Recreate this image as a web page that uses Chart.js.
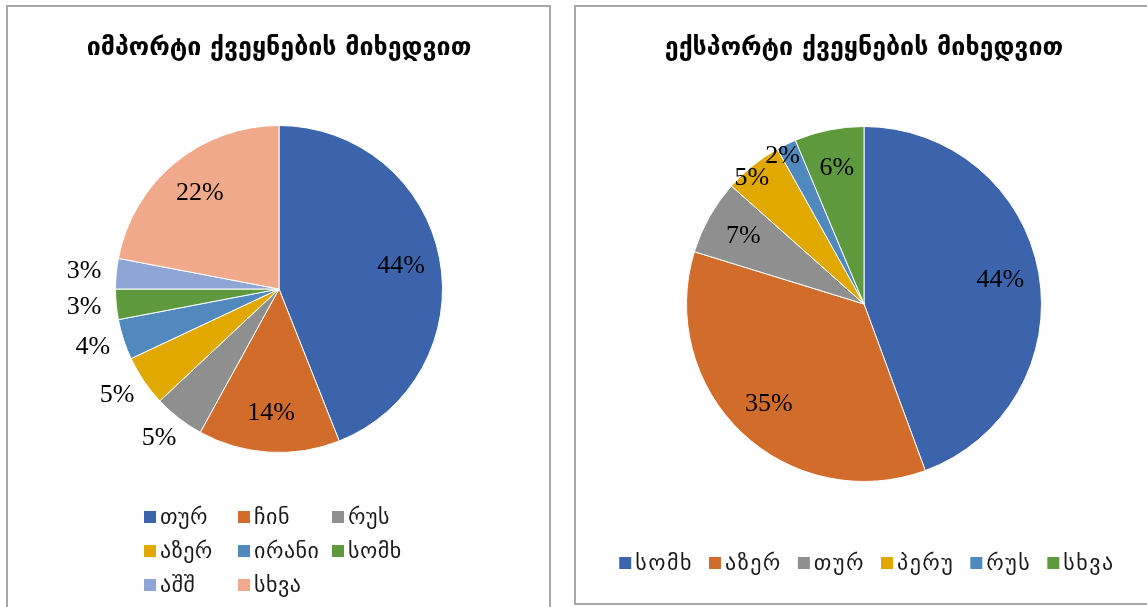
<!DOCTYPE html>
<html>
<head>
<meta charset="utf-8">
<script src="https://cdn.jsdelivr.net/npm/chart.js@4/dist/chart.umd.min.js"></script>
<style>
  body { margin: 0; background: #fff; width: 1147px; height: 607px; overflow: hidden; position: relative; }
  canvas { position: absolute; top: 0; }
  .frame { position: absolute; border: 2px solid #a8a8a8; box-sizing: border-box; pointer-events: none; }
</style>
</head>
<body>
<canvas id="importChart" width="560" height="607" style="left:0"></canvas>
<canvas id="exportChart" width="585" height="607" style="left:562px"></canvas>
<div class="frame" style="left:6px;top:5px;width:545px;height:620px"></div>
<div class="frame" style="left:574px;top:5px;width:600px;height:600px"></div>
<script>
// Import by country
const importTitle = "იმპორტი ქვეყნების მიხედვით"
const importLabels = ["თურ", "ჩინ", "რუს", "აზერ", "ირანი", "სომხ", "აშშ", "სხვა"]
const importValues = [44, 14, 5, 5, 4, 3, 3, 22]
const importColors = ["#3C64AD", "#D26C2A", "#8F8F8F", "#E1A900", "#4F89BE", "#5E9A3D", "#8EA5D5", "#F0A98A"]

// Export by country
const exportTitle = "ექსპორტი ქვეყნების მიხედვით"
const exportLabels = ["სომხ", "აზერ", "თურ", "პერუ", "რუს", "სხვა"]
const exportValues = [44.3, 35.3, 6.8, 5.3, 1.8, 6.3]
const exportColors = ["#3C64AD", "#D26C2A", "#8F8F8F", "#E1A900", "#4F89BE", "#5E9A3D"]

const geoFont = "'DejaVu Sans', sans-serif"
const numFont = "'Liberation Serif', 'DejaVu Serif', serif"

// Title drawn at a fixed spot above the pie
const titlePlugin = {
  id: "panelTitle",
  afterDraw: (chart, args, opts) => {
    const ctx = chart.ctx
    ctx.save()
    ctx.font = `bold ${opts.size}px ${geoFont}`
    ctx.fillStyle = "#000"
    ctx.textAlign = "center"
    ctx.textBaseline = "middle"
    ctx.fillText(opts.text, opts.x, opts.y)
    ctx.restore()
  },
}

// Percent labels, inside for big slices, outside or on the rim for small ones
const pctPlugin = {
  id: "pctLabels",
  afterDatasetsDraw: (chart, args, opts) => {
    const ctx = chart.ctx
    const data = chart.data.datasets[0].data
    const total = data.reduce((a, b) => a + b, 0)
    ctx.save()
    ctx.font = `${opts.size}px ${numFont}`
    ctx.fillStyle = "#000"
    ctx.textAlign = "center"
    ctx.textBaseline = "middle"
    chart.getDatasetMeta(0).data.forEach((arc, i) => {
      const pct = (data[i] / total) * 100
      const text = Math.round(pct) + "%"
      const { x, y, startAngle, endAngle, outerRadius } = arc.getProps(["x", "y", "startAngle", "endAngle", "outerRadius"], true)
      const mid = (startAngle + endAngle) / 2
      let px, py
      if (pct >= opts.insideMin) {
        px = x + Math.cos(mid) * outerRadius * opts.insideR
        py = y + Math.sin(mid) * outerRadius * opts.insideR
      } else if (opts.smallMode === "rim") {
        // rim labels sit a little back toward the slice start
        const a = mid - (opts.skew || 0)
        px = x + Math.cos(a) * outerRadius * opts.rimR
        py = y + Math.sin(a) * outerRadius * opts.rimR
      } else {
        const c = Math.cos(mid)
        const s = Math.sin(mid)
        const w = ctx.measureText(text).width
        const h = opts.size * 0.8
        const r = outerRadius + opts.gap
        px = x + c * r + c * w / 2
        py = y + s * r + s * h / 2
      }
      ctx.fillText(text, px, py)
    })
    ctx.restore()
  },
}

// Legend laid out like the spreadsheet one: grid or single centred row
const legendPlugin = {
  id: "gridLegend",
  afterDraw: (chart, args, opts) => {
    const ctx = chart.ctx
    const labels = chart.data.labels
    const colors = chart.data.datasets[0].backgroundColor
    ctx.save()
    ctx.font = `${opts.size}px ${geoFont}`
    ctx.letterSpacing = opts.spacing + "px"
    ctx.textBaseline = "middle"
    ctx.textAlign = "left"
    const box = opts.box
    if (opts.cols) {
      labels.forEach((lbl, i) => {
        const bx = opts.x + (i % opts.cols) * opts.colWidth
        const by = opts.y + Math.floor(i / opts.cols) * opts.rowHeight
        ctx.fillStyle = colors[i]
        ctx.fillRect(bx, by - box / 2, box, box)
        ctx.fillStyle = "#1a1a1a"
        ctx.fillText(lbl, bx + box + opts.textGap, by + 1)
      })
    } else {
      const widths = labels.map((lbl) => box + opts.textGap + ctx.measureText(lbl).width)
      const full = widths.reduce((a, b) => a + b, 0) + opts.itemGap * (labels.length - 1)
      let bx = opts.cx - full / 2
      labels.forEach((lbl, i) => {
        ctx.fillStyle = colors[i]
        ctx.fillRect(bx, opts.y - box / 2, box, box)
        ctx.fillStyle = "#1a1a1a"
        ctx.fillText(lbl, bx + box + opts.textGap, opts.y + 1)
        bx += widths[i] + opts.itemGap
      })
    }
    ctx.restore()
  },
}

const pieOptions = (padding, extra) => ({
  responsive: false,
  animation: false,
  layout: { padding },
  plugins: {
    legend: { display: false },
    title: { display: false },
    tooltip: { enabled: false },
    ...extra,
  },
})

new Chart(document.getElementById("importChart"), {
  type: "pie",
  data: {
    labels: importLabels,
    datasets: [{ data: importValues, backgroundColor: importColors, borderColor: "#ffffff", borderWidth: 1, hoverOffset: 0 }],
  },
  options: pieOptions(
    { left: 115, right: 117, top: 125, bottom: 154 },
    {
      panelTitle: { text: importTitle, x: 279, y: 48, size: 25 },
      pctLabels: { size: 26, insideMin: 10, insideR: 0.76, gap: 15 },
      gridLegend: { size: 22, spacing: 0.5, box: 12, textGap: 4, cols: 3, colWidth: 94, rowHeight: 34, x: 144, y: 517 },
    }
  ),
  plugins: [titlePlugin, pctPlugin, legendPlugin],
})

new Chart(document.getElementById("exportChart"), {
  type: "pie",
  data: {
    labels: exportLabels,
    datasets: [{ data: exportValues, backgroundColor: exportColors, borderColor: "#ffffff", borderWidth: 1, hoverOffset: 0 }],
  },
  options: pieOptions(
    { left: 124, right: 105, top: 126, bottom: 125 },
    {
      panelTitle: { text: exportTitle, x: 302, y: 48, size: 25 },
      pctLabels: { size: 26, insideMin: 6, insideR: 0.78, smallMode: "rim", rimR: 0.95, skew: 0.05 },
      gridLegend: { size: 22, spacing: 1.5, box: 12, textGap: 4, itemGap: 16, cx: 305, y: 563 },
    }
  ),
  plugins: [titlePlugin, pctPlugin, legendPlugin],
})
</script>
</body>
</html>
